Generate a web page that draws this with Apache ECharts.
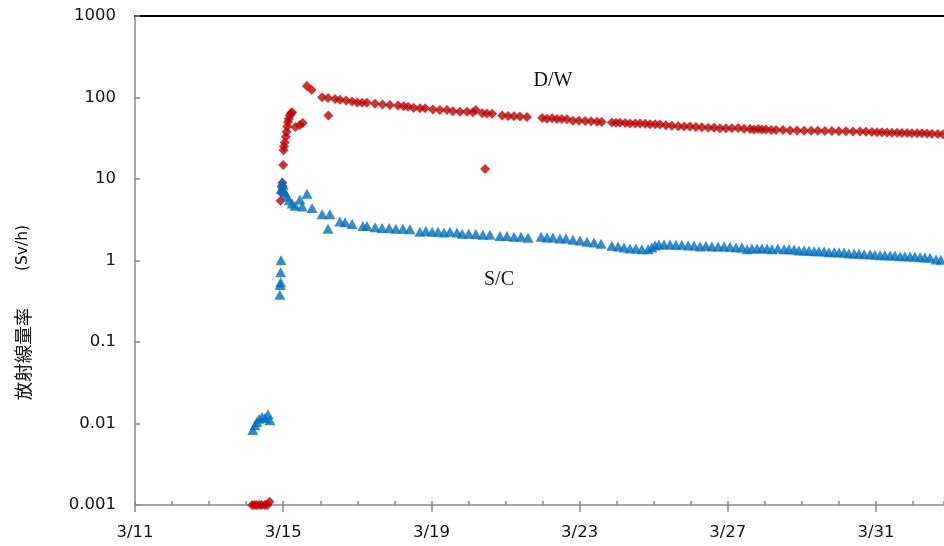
<!DOCTYPE html>
<html><head><meta charset="utf-8">
<script src="https://cdn.jsdelivr.net/npm/echarts@6/dist/echarts.min.js"></script>
<style>html,body{margin:0;padding:0;background:#fff}#c{width:944px;height:546px}</style>
</head><body><div id="c"></div>
<script>
// x values are day-of-March (decimal, e.g. 15.5 = 3/15 12:00)
const xTickLabels = ['3/11','3/15','3/19','3/23','3/27','3/31'];
const yTickLabels = ['0.001','0.01','0.1','1','10','100','1000'];

const dwDay = [14.16,14.22,14.28,14.35,14.42,14.50,14.57,14.63,
14.93,14.95,14.97,14.98,15.00,15.01,15.02,15.04,15.07,15.09,15.11,15.13,15.15,15.18,15.21,15.24,
15.33,15.45,15.53,
15.64,15.77,
16.05,16.21,16.22,16.40,16.53,16.70,16.86,17.00,17.13,17.26,17.48,17.68,17.88,18.10,18.25,18.37,18.52,
18.69,18.83,19.04,19.23,19.42,19.58,19.77,19.96,20.12,20.20,20.37,20.45,20.50,20.64,20.91,21.07,21.23,21.39,21.58,
21.99,22.12,22.26,22.39,22.52,22.66,22.82,22.98,23.15,23.31,23.47,23.60,23.87,23.98,24.09,24.23,24.36,24.50,24.63,24.77,
24.90,25.04,25.17,25.33,25.49,25.66,25.82,25.98,26.14,26.30,26.47,26.63,26.79,26.95,27.11,27.28,27.44,27.60,27.71,27.82,
27.92,28.03,28.17,28.30,28.49,28.68,28.87,29.06,29.25,29.43,29.62,29.81,30.00,30.19,30.38,30.57,30.73,30.89,31.03,31.16,
31.30,31.43,31.57,31.70,31.84,31.97,32.11,32.24,32.38,32.51,32.67,32.81];
const dwValue = [0.001,0.001,0.001,0.001,0.001,0.001,0.001,0.0011,
5.4,6.8,8.0,9.0,14.9,22.5,25,28,33,38,44,50,55,60,64,66,
43.5,46,48.5,
138,124,
101,98.6,60,96,94,92,89,87,86,86,84,82,81,80,78,77,75,
74,74,71,70,70,68,67,67,66,70,64,13.3,63.5,63,60,59.5,59,58.5,57.5,
56,55,55.5,54.5,54.5,54,52,52,51.5,51,50.5,50,49.5,49,49,48.5,48,48,48,47.5,
47,47,46.5,45.5,45,44.5,44,44,43.5,43,42.5,42.5,42,42,42,42.2,41.5,41,40.5,41,
40.5,40.5,40,40,39.9,39.5,39.5,39.2,39,39,38.8,38.8,38.5,38.5,38.2,38.2,38,37.7,37.5,37.5,
37.3,37,37,36.8,36.7,36.5,36.5,36.3,36.2,36,35.7,35.5];

const scDay = [14.18,14.24,14.29,14.35,14.43,14.51,14.59,14.64,
14.91,14.92,14.93,14.93,14.94,
14.95,14.97,15.00,15.02,15.05,15.10,15.16,15.24,15.32,15.45,15.51,15.64,15.78,16.05,16.21,16.26,16.53,16.67,16.86,17.15,17.26,17.48,
17.67,17.86,18.04,18.23,18.42,18.69,18.85,19.02,19.18,19.34,
19.50,19.69,19.83,20.01,20.20,20.39,20.58,20.85,21.04,21.23,
21.42,21.61,21.96,22.12,22.28,22.47,22.63,22.82,23.01,23.20,
23.39,23.58,23.87,24.04,24.20,24.36,24.52,24.68,24.85,24.95,
25.04,25.14,25.28,25.44,25.60,25.76,25.93,26.09,26.25,26.41,
26.57,26.74,26.90,27.06,27.22,27.38,27.52,27.65,27.79,27.92,
28.06,28.19,28.35,28.52,28.65,28.79,28.92,29.06,29.19,29.33,
29.46,29.60,29.73,29.87,30.00,30.14,30.27,30.41,30.54,30.68,
30.84,30.97,31.11,31.24,31.38,31.51,31.65,31.78,31.92,32.05,
32.19,32.32,32.46,32.62,32.75];
const scValue = [0.0083,0.0095,0.0104,0.0114,0.012,0.0117,0.013,0.011,
0.38,0.50,0.54,0.72,1.01,
7.6,9.2,8.5,7.3,6.8,6.1,5.5,5.0,4.7,5.6,4.6,6.6,4.4,3.7,2.45,3.7,3.0,2.95,2.8,2.65,2.65,2.55,
2.5,2.5,2.45,2.45,2.42,2.25,2.3,2.25,2.25,2.2,
2.25,2.2,2.13,2.13,2.12,2.07,2.07,2.0,2.0,1.96,
1.96,1.9,1.96,1.92,1.92,1.86,1.86,1.8,1.76,1.7,
1.66,1.6,1.52,1.48,1.44,1.4,1.4,1.37,1.37,1.44,
1.53,1.57,1.57,1.57,1.56,1.56,1.53,1.53,1.49,1.52,
1.48,1.48,1.48,1.47,1.44,1.44,1.37,1.4,1.4,1.4,
1.4,1.37,1.4,1.37,1.37,1.36,1.33,1.33,1.32,1.3,
1.3,1.29,1.26,1.26,1.25,1.25,1.22,1.22,1.21,1.19,
1.19,1.18,1.16,1.16,1.15,1.15,1.13,1.13,1.12,1.12,
1.1,1.09,1.08,1.03,1.02];

const START_DAY = 11;      // 3/11 00:00 = 0 on the x axis
const X_SPAN = 21.835;     // visible days

const toPts = (days, vals) => days.map((d, i) => [d - START_DAY, vals[i]]);
const axisGrey = '#888888';
const labelFont = {fontFamily: 'DejaVu Sans', fontSize: 16.5, color: '#111'};

const chart = echarts.init(document.getElementById('c'), null, {renderer: 'canvas'});
chart.setOption({
  animation: false,
  backgroundColor: '#fff',
  grid: {left: 135, right: 0, top: 16, bottom: 41},
  xAxis: [
    {type: 'value', min: 0, max: X_SPAN, interval: 1, position: 'bottom',
     axisLine: {show: true, onZero: false, lineStyle: {color: axisGrey, width: 1.5}},
     axisTick: {show: true, inside: true, length: 4, lineStyle: {color: axisGrey, width: 1.5}},
     axisLabel: {show: false}, splitLine: {show: false}},
    {type: 'value', min: 0, max: X_SPAN, interval: 4, position: 'bottom',
     axisLine: {show: false, onZero: false},
     axisTick: {show: true, inside: false, length: 7, lineStyle: {color: axisGrey, width: 1.5}},
     axisLabel: Object.assign({show: true, margin: 19, showMaxLabel: false,
       formatter: v => (Math.abs(v / 4 - Math.round(v / 4)) < 1e-6 ? (xTickLabels[Math.round(v / 4)] || '') : '')}, labelFont),
     splitLine: {show: false}},
    {type: 'value', min: 0, max: X_SPAN, position: 'top',
     axisLine: {show: true, onZero: false, lineStyle: {color: '#000', width: 2}},
     axisTick: {show: false}, axisLabel: {show: false}, splitLine: {show: false}}
  ],
  yAxis: {
    type: 'log', logBase: 10, min: 0.001, max: 1000, position: 'left',
    axisLine: {show: true, onZero: false, lineStyle: {color: axisGrey, width: 1.5}},
    axisTick: {show: true, inside: true, length: 5, lineStyle: {color: axisGrey, width: 1.5}},
    axisLabel: Object.assign({margin: 19,
      formatter: v => yTickLabels[Math.round(Math.log10(v)) + 3]}, labelFont),
    splitLine: {show: false}
  },
  series: [
    {name: 'D/W', type: 'scatter', xAxisIndex: 0, clip: false,
     symbol: 'diamond', symbolSize: [10, 10],
     itemStyle: {color: '#C00000'}, data: toPts(dwDay, dwValue)},
    {name: 'S/C', type: 'scatter', xAxisIndex: 0, clip: false,
     symbol: 'triangle', symbolSize: [11, 10],
     itemStyle: {color: '#0070C0'}, data: toPts(scDay, scValue)}
  ],
  graphic: [
    {type: 'text', x: 23, y: 354, rotation: Math.PI / 2,
     style: {text: '放射線量率', font: '18.5px "Noto Sans CJK JP"', fill: '#111',
             textAlign: 'center', textVerticalAlign: 'middle'}},
    {type: 'text', x: 23, y: 248, rotation: Math.PI / 2,
     style: {text: '(Sv/h)', font: '15.5px "DejaVu Sans"', fill: '#111',
             textAlign: 'center', textVerticalAlign: 'middle'}},
    {type: 'text', x: 553, y: 81,
     style: {text: 'D/W', font: '20px "Liberation Serif"', fill: '#111',
             textAlign: 'center', textVerticalAlign: 'middle'}},
    {type: 'text', x: 499, y: 280,
     style: {text: 'S/C', font: '20px "Liberation Serif"', fill: '#111',
             textAlign: 'center', textVerticalAlign: 'middle'}}
  ]
});
</script>
</body></html>
